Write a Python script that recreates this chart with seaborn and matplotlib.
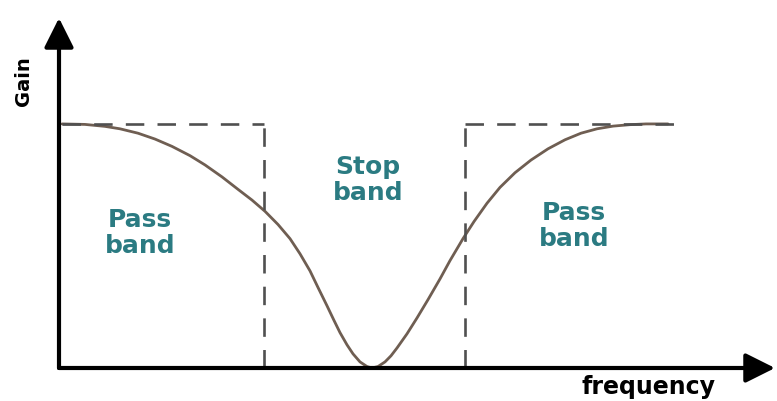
import numpy as np
import pandas as pd
import matplotlib.pyplot as plt
import seaborn as sns

# gain response (frequency in arbitrary units, gain normalised to pass level)
freq = [0.03, 0.26, 0.46, 0.61, 0.79, 0.96, 1.13, 1.31, 1.46, 1.63, 1.79, 1.93, 2.06,
        2.19, 2.31, 2.41, 2.51, 2.59, 2.68, 2.75, 2.81, 2.88, 2.94, 3.01, 3.08, 3.13,
        3.19, 3.26, 3.32, 3.38, 3.48, 3.58, 3.69, 3.81, 3.91, 4.04, 4.15, 4.28, 4.41,
        4.56, 4.72, 4.89, 5.06, 5.22, 5.38, 5.54, 5.71, 5.87, 6.09]
gain = [1.0, 0.998, 0.99, 0.98, 0.962, 0.938, 0.908, 0.87, 0.832, 0.783, 0.732, 0.688,
        0.642, 0.588, 0.53, 0.468, 0.398, 0.33, 0.255, 0.195, 0.145, 0.095, 0.058, 0.025,
        0.006, 0.0, 0.006, 0.025, 0.05, 0.082, 0.14, 0.205, 0.28, 0.365, 0.44, 0.53,
        0.6, 0.675, 0.74, 0.8, 0.852, 0.898, 0.935, 0.962, 0.98, 0.991, 0.997, 1.0, 1.0]
band_edges = [2.05, 4.06]
pass_level = 1.0
pass_end = 6.21
band_labels = ["Pass\nband", "Stop\nband", "Pass\nband"]
label_pos = [(0.81, 0.553), (3.09, 0.77), (5.15, 0.58)]

df = pd.DataFrame({"frequency": freq, "gain": gain})

sns.set_style("white")
plt.rcParams["font.family"] = ["DejaVu Sans"]

W, H = 777, 401
fig = plt.figure(figsize=(W / 100, H / 100), dpi=100)
ax = fig.add_axes([59 / W, (H - 368) / H, (775 - 59) / W, (368 - 18) / H])
ax.set_xlim(0, 7.16)
ax.set_ylim(0, 1.434)

sns.lineplot(data=df, x="frequency", y="gain", ax=ax, color="#6f5e52", linewidth=2)

dash = dict(color="#505050", linewidth=1.9, linestyle=(0, (7, 5)))
ax.plot([0.03, band_edges[0]], [pass_level, pass_level], **dash)
ax.plot([band_edges[1], pass_end], [pass_level, pass_level], **dash)
for e in band_edges:
    ax.plot([e, e], [0, pass_level], **dash)

for txt, (x, y) in zip(band_labels, label_pos):
    ax.text(x, y, txt, color="#2b7b82", fontsize=18, fontweight="bold",
            ha="center", va="center", linespacing=1.1)

# axes arrows
arrow = dict(arrowstyle="-|>,head_width=0.9,head_length=1.8", color="black",
             linewidth=3, shrinkA=0, shrinkB=0)
ax.annotate("", xy=(0, 1.0), xytext=(0, 0), xycoords="axes fraction", arrowprops=arrow)
ax.annotate("", xy=(1.0, 0), xytext=(0, 0), xycoords="axes fraction", arrowprops=arrow)

for s in ax.spines.values():
    s.set_visible(False)
ax.set_xticks([])
ax.set_yticks([])
ax.set_xlabel("")
ax.set_ylabel("")

fig.text(24 / W, 1 - 81 / H, "Gain", rotation=90, fontsize=14, fontweight="bold",
         ha="center", va="center", color="black")
fig.text(648 / W, 1 - 387 / H, "frequency", fontsize=17, fontweight="bold",
         ha="center", va="center", color="black")

plt.savefig("out.png", dpi=100)
plt.close()
